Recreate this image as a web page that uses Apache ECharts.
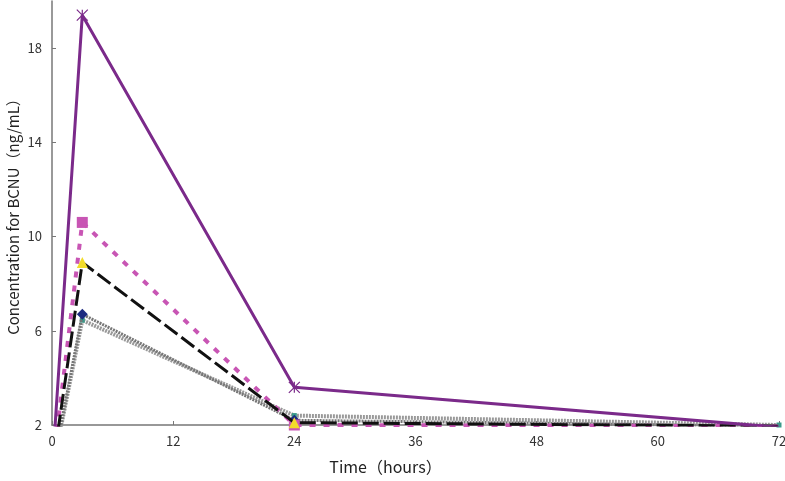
<!DOCTYPE html>
<html>
<head>
<meta charset="utf-8">
<script src="https://cdn.jsdelivr.net/npm/echarts@6/dist/echarts.min.js"></script>
<style>
  html, body { margin: 0; padding: 0; background: #fff; }
  #main { width: 785px; height: 481px; }
</style>
</head>
<body>
<div id="main"></div>
<script>
// sampling times (hours)
var hours = [0, 3, 24, 72];
// BCNU concentration per subject (ng/mL)
var subjA = [0, 19.4, 3.6, 1.9];
var subjB = [0, 10.6, 2.0, 1.95];
var subjC = [0, 8.9, 2.1, 1.95];
var subjD = [0, 6.7, 2.2, 1.95];
var subjE = [0, 6.45, 2.4, 2.0];
var xTicks = [0, 12, 24, 36, 48, 60, 72];
var yTicks = [2, 6, 10, 14, 18];

function pairs(vals) {
    return hours.map(function (h, i) { return [h, vals[i]]; });
}

var myChart = echarts.init(document.getElementById('main'));
var font = '"Noto Sans CJK JP", "Noto Sans", sans-serif';

var option = {
    animation: false,
    grid: {
        left: 52, right: 6, top: 1, bottom: 56,
        containLabel: false,
        outerBoundsMode: 'none'
    },
    xAxis: {
        type: 'value',
        min: 0, max: 72, interval: 12,
        name: 'Time（hours）',
        nameLocation: 'middle',
        nameGap: 34,
        nameTextStyle: { fontFamily: font, fontSize: 16, color: '#222', padding: [0, 60, 0, 0] },
        axisLine: { lineStyle: { color: '#777', width: 1.5 } },
        axisTick: { inside: true, length: 4, customValues: xTicks, lineStyle: { color: '#777' } },
        axisLabel: { fontFamily: font, fontSize: 13, color: '#333', margin: 10, customValues: xTicks },
        splitLine: { show: false }
    },
    yAxis: {
        type: 'value',
        min: 2, max: 20,
        name: 'Concentration for BCNU（ng/mL）',
        nameLocation: 'middle',
        nameGap: 31,
        nameMoveOverlap: false,
        nameRotate: 90,
        nameTextStyle: { fontFamily: font, fontSize: 15, color: '#222' },
        axisLine: { lineStyle: { color: '#777', width: 1.5 } },
        axisTick: { inside: true, length: 4, customValues: yTicks, lineStyle: { color: '#777' } },
        axisLabel: { fontFamily: font, fontSize: 13, color: '#333', margin: 10, customValues: yTicks },
        splitLine: { show: false }
    },
    series: [
        {
            type: 'line', data: pairs(subjE), clip: true, z: 2,
            symbol: 'rect', symbolSize: 5,
            itemStyle: { color: '#3a9a8a' },
            lineStyle: { color: '#999', width: 4, type: [2, 1] }
        },
        {
            type: 'line', data: pairs(subjD), clip: true, z: 3,
            symbol: 'diamond', symbolSize: 11,
            itemStyle: { color: '#1c2a80' },
            lineStyle: { color: '#777', width: 3, type: [2, 1] }
        },
        {
            type: 'line', data: pairs(subjB), clip: true, z: 4,
            symbol: 'rect', symbolSize: 11,
            itemStyle: { color: '#c855b4' },
            lineStyle: { color: '#c855b4', width: 4, type: [6, 8] }
        },
        {
            type: 'line', data: pairs(subjC), clip: true, z: 5,
            symbol: 'triangle', symbolSize: 11,
            itemStyle: { color: '#f2dc2a' },
            lineStyle: { color: '#111', width: 3, type: [16, 5] }
        },
        {
            type: 'line', data: pairs(subjA), clip: true, z: 6,
            symbol: 'path://M0,0L10,10M10,0L0,10M5,0L5,10',
            symbolSize: 11,
            itemStyle: { color: 'transparent', borderColor: '#7b2a8a', borderWidth: 1.2 },
            lineStyle: { color: '#7b2a8a', width: 3 }
        }
    ]
};
myChart.setOption(option);
</script>
</body>
</html>
